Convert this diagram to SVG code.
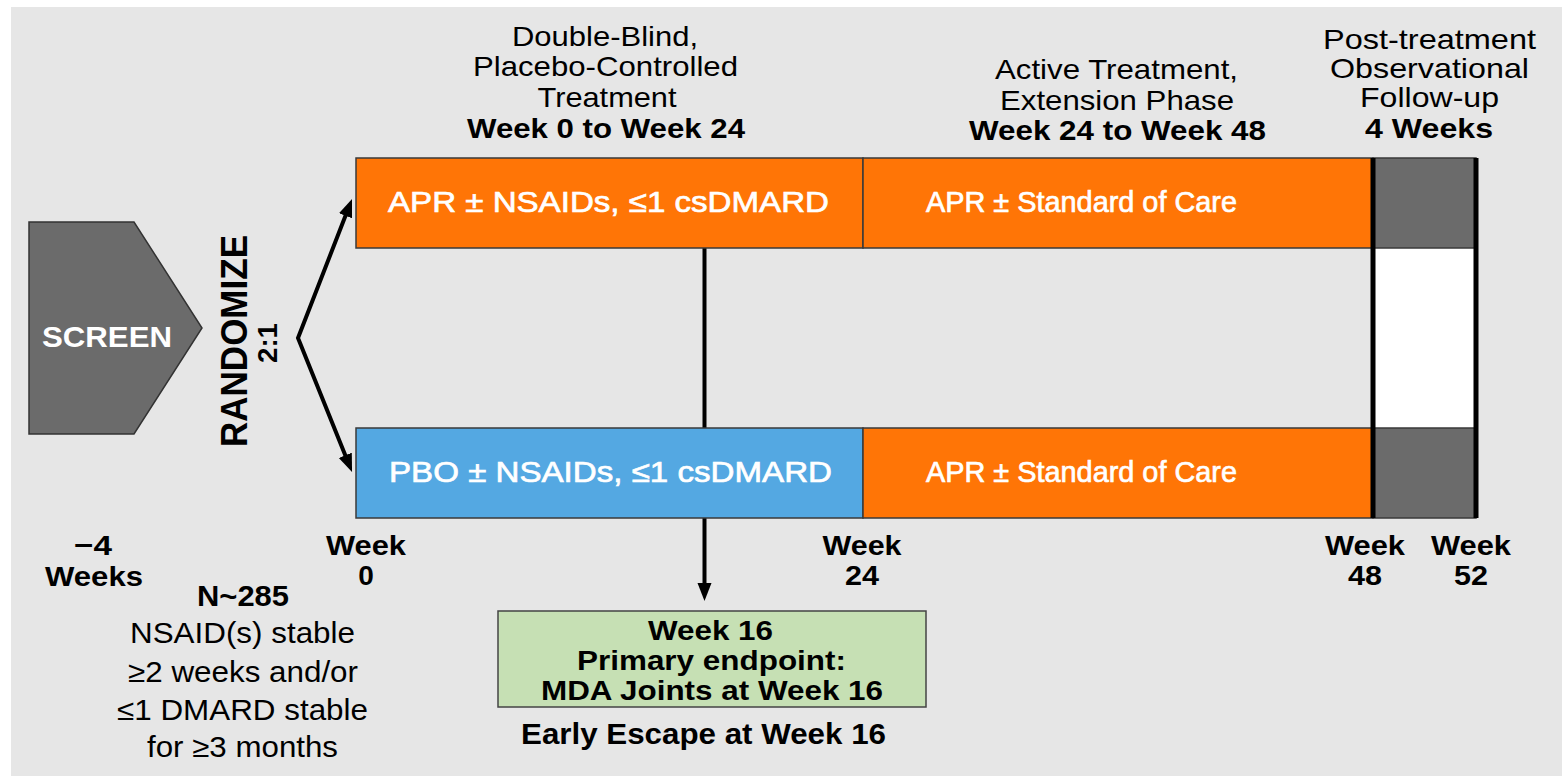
<svg xmlns="http://www.w3.org/2000/svg" width="1562" height="776" viewBox="0 0 1562 776">
  <style>
    .t { font-family: "Liberation Sans", Arial, Helvetica, sans-serif; fill: #000; text-anchor: middle; }
    .b { font-weight: bold; }
    .w { fill: #fff; stroke: #fff; stroke-width: 0.7; }
    .s27 { font-size: 27px; }
    .s28 { font-size: 28px; }
    .s29 { font-size: 29px; }
    .s30 { font-size: 30px; }
    .bar { stroke: #3a3a3a; stroke-width: 1.5; }
    .apr { fill: #ff7506; }
    .pbo { fill: #54a8e2; }
    .obs { fill: #6b6b6b; }
    .conn { fill: none; stroke: #000; stroke-width: 4; }
  </style>
  <defs>
    <marker id="head" markerUnits="userSpaceOnUse" markerWidth="20" markerHeight="16" refX="8" refY="7" orient="auto-start-reverse">
      <path d="M0,0 L18,7 L0,14 Z" fill="#000"/>
    </marker>
  </defs>

  <!-- page background -->
  <rect x="0" y="0" width="1562" height="776" fill="#ffffff"/>
  <rect x="11" y="7" width="1551" height="769" fill="#e6e6e6"/>

  <!-- connectors -->
  <g id="connectors">
    <path class="conn" d="M348.4,208.3 L298,338 L348.3,462.7" marker-start="url(#head)" marker-end="url(#head)"/>
    <line class="conn" x1="704.5" y1="248" x2="704.5" y2="591" marker-end="url(#head)"/>
  </g>

  <!-- screening -->
  <g id="screen">
    <polygon points="29,222 134,222 202,328 134,434 29,434" fill="#6b6b6b" stroke="#333" stroke-width="1.5"/>
    <text class="t b s30" fill="#fff" style="fill:#fff" x="107" y="347" textLength="130" lengthAdjust="spacingAndGlyphs">SCREEN</text>
  </g>

  <!-- randomisation label -->
  <g id="randomize">
    <text class="t b" font-size="36" transform="translate(247,341) rotate(-90)" textLength="212" lengthAdjust="spacingAndGlyphs">RANDOMIZE</text>
    <text class="t b s28" transform="translate(277,343) rotate(-90)" textLength="40" lengthAdjust="spacingAndGlyphs">2:1</text>
  </g>

  <!-- phase headings -->
  <g id="phase-double-blind">
    <text class="t s28" x="605" y="46" textLength="186" lengthAdjust="spacingAndGlyphs">Double-Blind,</text>
    <text class="t s28" x="605.5" y="76" textLength="265" lengthAdjust="spacingAndGlyphs">Placebo-Controlled</text>
    <text class="t s28" x="607" y="107" textLength="139" lengthAdjust="spacingAndGlyphs">Treatment</text>
    <text class="t b s28" x="606" y="138" textLength="278" lengthAdjust="spacingAndGlyphs">Week 0 to Week 24</text>
  </g>
  <g id="phase-extension">
    <text class="t s28" x="1116.5" y="79" textLength="243" lengthAdjust="spacingAndGlyphs">Active Treatment,</text>
    <text class="t s28" x="1117" y="110" textLength="234" lengthAdjust="spacingAndGlyphs">Extension Phase</text>
    <text class="t b s28" x="1117.5" y="140" textLength="297" lengthAdjust="spacingAndGlyphs">Week 24 to Week 48</text>
  </g>
  <g id="phase-follow-up">
    <text class="t s28" x="1429.5" y="49" textLength="213" lengthAdjust="spacingAndGlyphs">Post-treatment</text>
    <text class="t s28" x="1429.5" y="78" textLength="199" lengthAdjust="spacingAndGlyphs">Observational</text>
    <text class="t s28" x="1429.5" y="107" textLength="139" lengthAdjust="spacingAndGlyphs">Follow-up</text>
    <text class="t b s28" x="1429" y="138" textLength="128" lengthAdjust="spacingAndGlyphs">4 Weeks</text>
  </g>

  <!-- follow-up column -->
  <g id="follow-up-column">
    <rect x="1373" y="158" width="103" height="360" fill="#ffffff"/>
  </g>

  <!-- apremilast arm -->
  <g id="arm-apr">
    <rect class="bar apr" x="356" y="158" width="507" height="90"/>
    <text class="t w s30" x="608.5" y="212" textLength="441" lengthAdjust="spacingAndGlyphs">APR ± NSAIDs, ≤1 csDMARD</text>
    <rect class="bar apr" x="863" y="158" width="510" height="90"/>
    <text class="t w s30" x="1081.5" y="212" textLength="311" lengthAdjust="spacingAndGlyphs">APR ± Standard of Care</text>
    <rect class="bar obs" x="1373" y="158" width="103" height="90"/>
  </g>

  <!-- placebo arm -->
  <g id="arm-pbo">
    <rect class="bar pbo" x="356" y="428" width="507" height="90"/>
    <text class="t w s30" x="610.5" y="482" textLength="443" lengthAdjust="spacingAndGlyphs">PBO ± NSAIDs, ≤1 csDMARD</text>
    <rect class="bar apr" x="863" y="428" width="510" height="90"/>
    <text class="t w s30" x="1081.5" y="482" textLength="311" lengthAdjust="spacingAndGlyphs">APR ± Standard of Care</text>
    <rect class="bar obs" x="1373" y="428" width="103" height="90"/>
  </g>

  <!-- week 48 / week 52 boundaries -->
  <g id="boundaries">
    <rect x="1370.5" y="158" width="5" height="360" fill="#000"/>
    <rect x="1473.5" y="158" width="5" height="360" fill="#000"/>
  </g>

  <!-- timeline labels -->
  <g id="week-minus4">
    <text class="t b s28" x="93" y="555" textLength="38" lengthAdjust="spacingAndGlyphs">−4</text>
    <text class="t b s28" x="94" y="586" textLength="98" lengthAdjust="spacingAndGlyphs">Weeks</text>
  </g>
  <g id="week-0">
    <text class="t b s28" x="366" y="555" textLength="80" lengthAdjust="spacingAndGlyphs">Week</text>
    <text class="t b s28" x="366" y="585">0</text>
  </g>
  <g id="week-24">
    <text class="t b s28" x="862" y="555" textLength="79" lengthAdjust="spacingAndGlyphs">Week</text>
    <text class="t b s28" x="862" y="585" textLength="34" lengthAdjust="spacingAndGlyphs">24</text>
  </g>
  <g id="week-48">
    <text class="t b s28" x="1365" y="555" textLength="80" lengthAdjust="spacingAndGlyphs">Week</text>
    <text class="t b s28" x="1365" y="585" textLength="34" lengthAdjust="spacingAndGlyphs">48</text>
  </g>
  <g id="week-52">
    <text class="t b s28" x="1471" y="555" textLength="80" lengthAdjust="spacingAndGlyphs">Week</text>
    <text class="t b s28" x="1471" y="585" textLength="34" lengthAdjust="spacingAndGlyphs">52</text>
  </g>

  <!-- population -->
  <g id="population">
    <text class="t b s29" x="243" y="606" textLength="92" lengthAdjust="spacingAndGlyphs">N~285</text>
    <text class="t s29" x="242.5" y="643" textLength="225" lengthAdjust="spacingAndGlyphs">NSAID(s) stable</text>
    <text class="t s29" x="243" y="682" textLength="230" lengthAdjust="spacingAndGlyphs">≥2 weeks and/or</text>
    <text class="t s29" x="242.5" y="720" textLength="251" lengthAdjust="spacingAndGlyphs">≤1 DMARD stable</text>
    <text class="t s29" x="242.5" y="757" textLength="191" lengthAdjust="spacingAndGlyphs">for ≥3 months</text>
  </g>

  <!-- primary endpoint -->
  <g id="endpoint">
    <rect x="498" y="611" width="428" height="96" fill="#c6e0b4" stroke="#444" stroke-width="1.5"/>
    <text class="t b s27" x="710.5" y="640" textLength="125" lengthAdjust="spacingAndGlyphs">Week 16</text>
    <text class="t b s27" x="711.5" y="670" textLength="269" lengthAdjust="spacingAndGlyphs">Primary endpoint:</text>
    <text class="t b s27" x="712" y="700" textLength="342" lengthAdjust="spacingAndGlyphs">MDA Joints at Week 16</text>
  </g>
  <g id="early-escape">
    <text class="t b s29" x="703.5" y="744" textLength="365" lengthAdjust="spacingAndGlyphs">Early Escape at Week 16</text>
  </g>
</svg>
